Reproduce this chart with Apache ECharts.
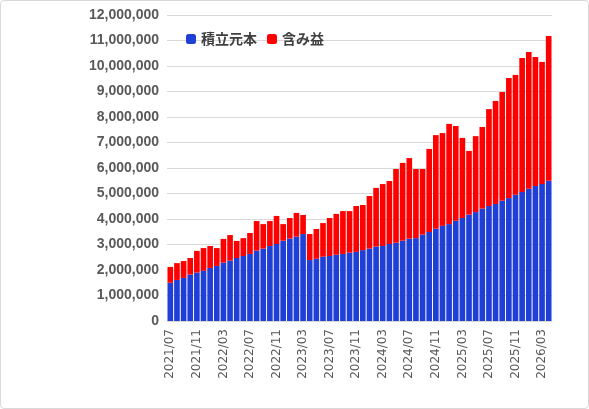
<!DOCTYPE html>
<html><head><meta charset="utf-8">
<script src="https://cdn.jsdelivr.net/npm/echarts@6/dist/echarts.min.js"></script>
<style>html,body{margin:0;padding:0;background:#fff}#c{width:587px;height:407px;border:1px solid #d9d9d9;border-radius:4px}</style>
</head><body><div id="c"></div>
<script>
const categories = [];
for (let y = 2021, m = 7; !(y === 2026 && m === 5); ) { categories.push(y + '/' + String(m).padStart(2, '0')); m++; if (m > 12) { m = 1; y++; } }
const principal = [1.50,1.61,1.69,1.82,1.90,1.97,2.08,2.16,2.29,2.37,2.47,2.55,2.63,2.76,2.84,2.94,3.02,3.15,3.23,3.31,3.41,2.39,2.44,2.52,2.55,2.60,2.63,2.68,2.71,2.78,2.84,2.92,2.94,3.02,3.07,3.15,3.23,3.25,3.39,3.49,3.62,3.73,3.80,3.93,4.04,4.17,4.27,4.41,4.51,4.59,4.72,4.82,4.95,5.06,5.19,5.29,5.37,5.50].map(v=>Math.round(v*1e6));
const total = [2.12,2.27,2.35,2.47,2.75,2.86,2.94,2.86,3.22,3.37,3.14,3.25,3.45,3.92,3.80,3.92,4.12,3.80,4.04,4.24,4.16,3.41,3.61,3.84,4.04,4.20,4.31,4.31,4.51,4.55,4.90,5.22,5.37,5.49,5.96,6.20,6.39,5.96,5.96,6.75,7.29,7.37,7.73,7.65,7.18,6.67,7.25,7.61,8.31,8.63,8.98,9.53,9.65,10.31,10.55,10.35,10.16,11.18].map(v=>Math.round(v*1e6));
const gain = total.map((t,i)=>t-principal[i]);
const chart = echarts.init(document.getElementById('c'));
chart.setOption({
  animation:false,
  grid:{left:166,right:36,top:14,bottom:87,containLabel:false},
  legend:{left:180,top:26,itemWidth:10,itemHeight:10,itemGap:10,textStyle:{fontSize:14,fontWeight:'bold',color:'#404040',fontFamily:'Noto Sans CJK JP'},data:['積立元本','含み益']},
  xAxis:{type:'category',data:categories,axisTick:{show:false},axisLine:{lineStyle:{color:'#d9d9d9'}},
    axisLabel:{interval:3,rotate:90,color:'#595959',fontSize:12,fontFamily:'DejaVu Sans',margin:8}},
  yAxis:{type:'value',min:0,max:12000000,interval:1000000,axisLine:{show:false},axisTick:{show:false},
    splitLine:{lineStyle:{color:'#d9d9d9',width:1}},
    axisLabel:{color:'#595959',fontSize:14,fontWeight:'bold',fontFamily:'Liberation Sans',formatter:v=>v.toLocaleString('en-US')}},
  series:[
    {name:'積立元本',type:'bar',stack:'a',data:principal,itemStyle:{color:'#1F3FD6'},barCategoryGap:'15%'},
    {name:'含み益',type:'bar',stack:'a',data:gain,itemStyle:{color:'#FF0000'}}
  ]
});
</script></body></html>
